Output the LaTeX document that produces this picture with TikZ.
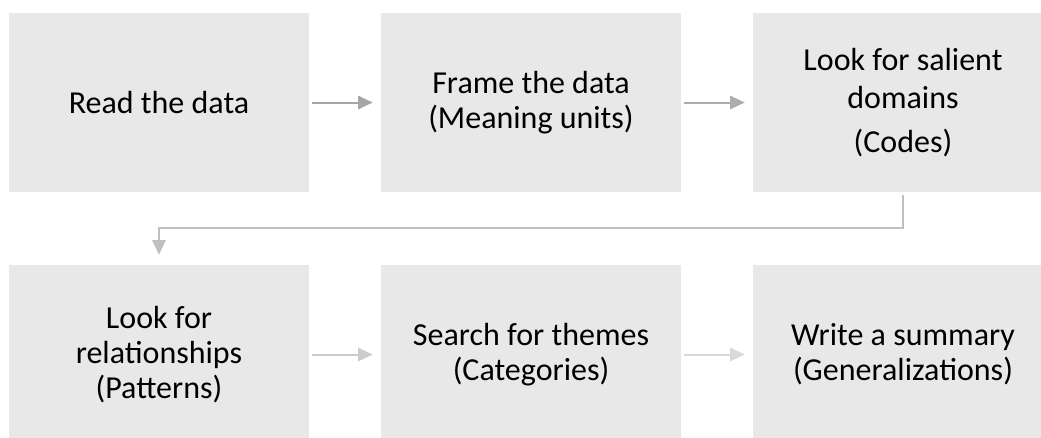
\documentclass[tikz,border=0pt]{standalone}
\usepackage{fontspec}
\setmainfont{Carlito}
\usetikzlibrary{positioning, arrows.meta}
\definecolor{boxgray}{HTML}{E8E8E8}

\begin{document}
\begin{tikzpicture}[x=0.75pt, y=-0.75pt, node distance=189pt and 279pt, on grid,
    stage/.style={fill=boxgray, minimum width=225pt, minimum height=134.25pt,
      inner sep=0pt, align=center, font=\fontsize{24}{26.5}\selectfont},
    flow/.style={-{Triangle[length=11pt, width=10pt]}, line width=1.5pt,
      shorten <=2.25pt, shorten >=6pt}]
    \useasboundingbox (0,0) rectangle (1041,437);
    \node[stage] (0) at (159,102.5) {Read the data};
    \node[stage] (1) [right=of 0] {Frame the data\\(Meaning units)};
    \node[stage] (2) [right=of 1] {Look for salient\\[2pt]domains\\[6pt](Codes)};
    \node[stage] (3) [below=of 0] {Look for\\relationships\\(Patterns)};
    \node[stage] (4) [right=of 3] {Search for themes\\(Categories)};
    \node[stage] (5) [right=of 4] {Write a summary\\(Generalizations)};
    \draw[flow, draw=black!35] (0) -- (1);
    \draw[flow, draw=black!32] (1) -- (2);
    \draw[flow, draw=black!25, shorten >=7.5pt] (2.south) -- ++(0,36) -| (3.north);
    \draw[flow, draw=black!20] (3) -- (4);
    \draw[flow, draw=black!15] (4) -- (5);
\end{tikzpicture}
\end{document}
